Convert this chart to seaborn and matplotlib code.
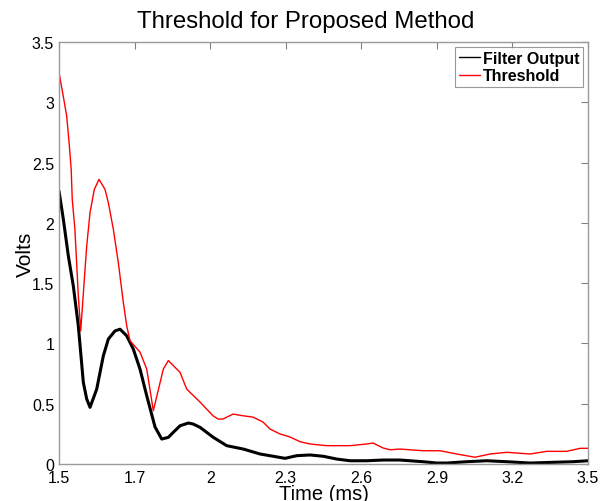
import numpy as np
import pandas as pd
import matplotlib
matplotlib.use("Agg")
import matplotlib.pyplot as plt
import seaborn as sns

# Filter output trace (time axis units, volts)
filter_t = [1.500, 1.5163, 1.5352, 1.5541, 1.5730, 1.5919, 1.6047, 1.6172, 1.6425,
            1.6675, 1.6864, 1.7117, 1.7306, 1.7560, 1.7809, 1.8062, 1.8316, 1.8630,
            1.8883, 1.9132, 1.9321, 1.9575, 1.9889, 2.0077, 2.0331, 2.0834, 2.1340,
            2.1968, 2.2599, 2.3102, 2.3544, 2.3987, 2.4490, 2.4993, 2.5499, 2.6002,
            2.6633, 2.7261, 2.7892, 2.8762, 2.9280, 2.9658, 3.0414, 3.1170, 3.1926,
            3.2807, 3.3677, 3.4433, 3.5000]
filter_v = [2.264, 2.030, 1.726, 1.475, 1.146, 0.677, 0.539, 0.470, 0.621,
            0.897, 1.036, 1.104, 1.118, 1.063, 0.953, 0.787, 0.566, 0.307,
            0.207, 0.221, 0.263, 0.317, 0.340, 0.331, 0.304, 0.221, 0.152,
            0.124, 0.083, 0.064, 0.047, 0.069, 0.075, 0.064, 0.041, 0.027,
            0.027, 0.033, 0.033, 0.019, 0.008, 0.008, 0.019, 0.027, 0.019,
            0.008, 0.014, 0.019, 0.027]

# Adaptive threshold trace
thresh_t = [1.500, 1.516, 1.529, 1.538, 1.546, 1.550, 1.560, 1.573, 1.582, 1.5957,
            1.6047, 1.6172, 1.6335, 1.6512, 1.6739, 1.6864, 1.7053, 1.7242, 1.7431,
            1.7560, 1.7684, 1.8062, 1.8316, 1.8565, 1.8943, 1.9132, 1.9575, 1.9828,
            2.0331, 2.0822, 2.1011, 2.1200, 2.1578, 2.1957, 2.2335, 2.2713, 2.2977,
            2.3355, 2.3733, 2.4112, 2.4490, 2.5121, 2.6002, 2.6633, 2.6871, 2.7250,
            2.7514, 2.7892, 2.8762, 2.9405, 3.0036, 3.0728, 3.1295, 3.1926, 3.2807,
            3.3439, 3.4195, 3.4698, 3.5000]
thresh_v = [3.245, 3.051, 2.886, 2.668, 2.444, 2.195, 1.947, 1.394, 1.104, 1.533,
            1.809, 2.085, 2.278, 2.361, 2.278, 2.168, 1.947, 1.671, 1.340,
            1.146, 1.022, 0.928, 0.787, 0.442, 0.787, 0.858, 0.760, 0.621,
            0.514, 0.400, 0.373, 0.373, 0.414, 0.400, 0.389, 0.348, 0.290,
            0.249, 0.224, 0.185, 0.166, 0.152, 0.152, 0.166, 0.174, 0.133,
            0.118, 0.124, 0.110, 0.110, 0.083, 0.056, 0.083, 0.097, 0.083,
            0.105, 0.105, 0.130, 0.130]

tick_pos = np.linspace(1.5, 3.5, 8)
tick_labels = ["1.5", "1.7", "2", "2.3", "2.6", "2.9", "3.2", "3.5"]
y_ticks = [0, 0.5, 1, 1.5, 2, 2.5, 3, 3.5]
y_labels = ["0", "0.5", "1", "1.5", "2", "2.5", "3", "3.5"]

sns.set_style("white")
plt.rcParams["font.family"] = ["Liberation Sans", "DejaVu Sans"]
plt.rcParams["text.color"] = "black"
plt.rcParams["axes.labelcolor"] = "black"

fig = plt.figure(figsize=(6.11, 5.02), dpi=100)
ax = fig.add_axes([0.0966, 0.0737, 0.8658, 0.8406])

df_f = pd.DataFrame({"t": filter_t, "v": filter_v})
df_t = pd.DataFrame({"t": thresh_t, "v": thresh_v})
sns.lineplot(data=df_f, x="t", y="v", ax=ax, color="black", linewidth=2.2,
             sort=False, estimator=None, label="Filter Output")
sns.lineplot(data=df_t, x="t", y="v", ax=ax, color="red", linewidth=1.0,
             sort=False, estimator=None, label="Threshold")

ax.set_xlim(1.5, 3.5)
ax.set_ylim(0, 3.5)
ax.set_xticks(tick_pos)
ax.set_xticklabels(tick_labels)
ax.set_yticks(y_ticks)
ax.set_yticklabels(y_labels)
ax.tick_params(direction="in", length=5, width=0.8, top=True, right=True,
               labelsize=11.5, colors="#808080", labelcolor="black")
ax.tick_params(axis="x", pad=4)
ax.tick_params(axis="y", pad=3.5)
for s in ax.spines.values():
    s.set_visible(True)
    s.set_color("#9a9a9a")
    s.set_linewidth(1.0)

ax.set_xlabel("Time (ms)", fontsize=14.5, labelpad=-0.5, color="black")
ax.set_ylabel("Volts", fontsize=15, labelpad=-2, color="black")
fig.text(0.5, 1 - 28 / 502, "Threshold for Proposed Method", fontsize=17.3,
         ha="center", va="baseline", color="black")

leg = ax.legend(loc="upper right", prop={"weight": "bold", "size": 11.5},
                frameon=True, fancybox=False, handlelength=1.3, handletextpad=0.2,
                borderpad=0.25, labelspacing=0.15, borderaxespad=0.3)
leg.get_frame().set_edgecolor("#808080")
leg.get_frame().set_linewidth(0.8)
for txt in leg.get_texts():
    txt.set_color("black")
for h in leg.get_lines():
    h.set_linewidth(1.0)

fig.savefig("out.png", dpi=100, facecolor="white")
